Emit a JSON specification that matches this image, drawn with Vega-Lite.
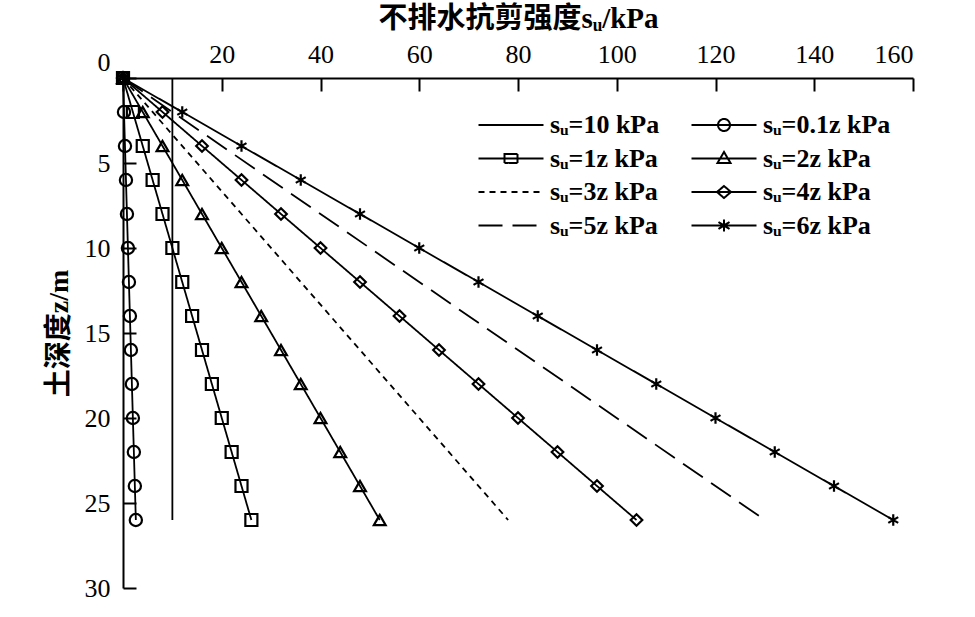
{
  "$schema": "https://vega.github.io/schema/vega-lite/v6.json",
  "autosize": {"type": "none"},
  "padding": {"left": 123, "top": 78, "right": 62, "bottom": 29},
  "width": 790,
  "height": 510,
  "background": "white",
  "config": {
    "view": {"stroke": null},
    "font": "Liberation Serif",
    "axis": {"grid": false, "domain": true, "ticks": true, "zindex": 1, "domainColor": "black", "domainOpacity": 1, "domainWidth": 2, "tickColor": "black", "tickOpacity": 1, "tickWidth": 2, "labelColor": "black", "titleColor": "black", "labelFont": "Liberation Serif", "titleFont": "Liberation Serif, Noto Sans CJK SC", "labelFontSize": 26, "titleFontSize": 28, "titleFontWeight": "bold", "labelFontWeight": "normal"}
  },
  "data": {
    "values": [
      {"series": "sᵤ=10 kPa", "z": 0, "su": 10},
      {"series": "sᵤ=10 kPa", "z": 26, "su": 10},
      {"series": "sᵤ=3z kPa", "z": 0, "su": 0},
      {"series": "sᵤ=3z kPa", "z": 26, "su": 78},
      {"series": "sᵤ=5z kPa", "z": 0, "su": 0},
      {"series": "sᵤ=5z kPa", "z": 26, "su": 130},
      {"series": "sᵤ=0.1z kPa", "z": 0, "su": 0},
      {"series": "sᵤ=0.1z kPa", "z": 2, "su": 0.2},
      {"series": "sᵤ=0.1z kPa", "z": 4, "su": 0.4},
      {"series": "sᵤ=0.1z kPa", "z": 6, "su": 0.6},
      {"series": "sᵤ=0.1z kPa", "z": 8, "su": 0.8},
      {"series": "sᵤ=0.1z kPa", "z": 10, "su": 1.0},
      {"series": "sᵤ=0.1z kPa", "z": 12, "su": 1.2},
      {"series": "sᵤ=0.1z kPa", "z": 14, "su": 1.4},
      {"series": "sᵤ=0.1z kPa", "z": 16, "su": 1.6},
      {"series": "sᵤ=0.1z kPa", "z": 18, "su": 1.8},
      {"series": "sᵤ=0.1z kPa", "z": 20, "su": 2.0},
      {"series": "sᵤ=0.1z kPa", "z": 22, "su": 2.2},
      {"series": "sᵤ=0.1z kPa", "z": 24, "su": 2.4},
      {"series": "sᵤ=0.1z kPa", "z": 26, "su": 2.6},
      {"series": "sᵤ=1z kPa", "z": 0, "su": 0},
      {"series": "sᵤ=1z kPa", "z": 2, "su": 2},
      {"series": "sᵤ=1z kPa", "z": 4, "su": 4},
      {"series": "sᵤ=1z kPa", "z": 6, "su": 6},
      {"series": "sᵤ=1z kPa", "z": 8, "su": 8},
      {"series": "sᵤ=1z kPa", "z": 10, "su": 10},
      {"series": "sᵤ=1z kPa", "z": 12, "su": 12},
      {"series": "sᵤ=1z kPa", "z": 14, "su": 14},
      {"series": "sᵤ=1z kPa", "z": 16, "su": 16},
      {"series": "sᵤ=1z kPa", "z": 18, "su": 18},
      {"series": "sᵤ=1z kPa", "z": 20, "su": 20},
      {"series": "sᵤ=1z kPa", "z": 22, "su": 22},
      {"series": "sᵤ=1z kPa", "z": 24, "su": 24},
      {"series": "sᵤ=1z kPa", "z": 26, "su": 26},
      {"series": "sᵤ=2z kPa", "z": 0, "su": 0},
      {"series": "sᵤ=2z kPa", "z": 2, "su": 4},
      {"series": "sᵤ=2z kPa", "z": 4, "su": 8},
      {"series": "sᵤ=2z kPa", "z": 6, "su": 12},
      {"series": "sᵤ=2z kPa", "z": 8, "su": 16},
      {"series": "sᵤ=2z kPa", "z": 10, "su": 20},
      {"series": "sᵤ=2z kPa", "z": 12, "su": 24},
      {"series": "sᵤ=2z kPa", "z": 14, "su": 28},
      {"series": "sᵤ=2z kPa", "z": 16, "su": 32},
      {"series": "sᵤ=2z kPa", "z": 18, "su": 36},
      {"series": "sᵤ=2z kPa", "z": 20, "su": 40},
      {"series": "sᵤ=2z kPa", "z": 22, "su": 44},
      {"series": "sᵤ=2z kPa", "z": 24, "su": 48},
      {"series": "sᵤ=2z kPa", "z": 26, "su": 52},
      {"series": "sᵤ=4z kPa", "z": 0, "su": 0},
      {"series": "sᵤ=4z kPa", "z": 2, "su": 8},
      {"series": "sᵤ=4z kPa", "z": 4, "su": 16},
      {"series": "sᵤ=4z kPa", "z": 6, "su": 24},
      {"series": "sᵤ=4z kPa", "z": 8, "su": 32},
      {"series": "sᵤ=4z kPa", "z": 10, "su": 40},
      {"series": "sᵤ=4z kPa", "z": 12, "su": 48},
      {"series": "sᵤ=4z kPa", "z": 14, "su": 56},
      {"series": "sᵤ=4z kPa", "z": 16, "su": 64},
      {"series": "sᵤ=4z kPa", "z": 18, "su": 72},
      {"series": "sᵤ=4z kPa", "z": 20, "su": 80},
      {"series": "sᵤ=4z kPa", "z": 22, "su": 88},
      {"series": "sᵤ=4z kPa", "z": 24, "su": 96},
      {"series": "sᵤ=4z kPa", "z": 26, "su": 104},
      {"series": "sᵤ=6z kPa", "z": 0, "su": 0},
      {"series": "sᵤ=6z kPa", "z": 2, "su": 12},
      {"series": "sᵤ=6z kPa", "z": 4, "su": 24},
      {"series": "sᵤ=6z kPa", "z": 6, "su": 36},
      {"series": "sᵤ=6z kPa", "z": 8, "su": 48},
      {"series": "sᵤ=6z kPa", "z": 10, "su": 60},
      {"series": "sᵤ=6z kPa", "z": 12, "su": 72},
      {"series": "sᵤ=6z kPa", "z": 14, "su": 84},
      {"series": "sᵤ=6z kPa", "z": 16, "su": 96},
      {"series": "sᵤ=6z kPa", "z": 18, "su": 108},
      {"series": "sᵤ=6z kPa", "z": 20, "su": 120},
      {"series": "sᵤ=6z kPa", "z": 22, "su": 132},
      {"series": "sᵤ=6z kPa", "z": 24, "su": 144},
      {"series": "sᵤ=6z kPa", "z": 26, "su": 156}
    ]
  },
  "encoding": {
    "x": {
      "field": "su", "type": "quantitative",
      "scale": {"domain": [0, 160], "nice": false},
      "axis": {
        "orient": "top",
        "values": [0, 20, 40, 60, 80, 100, 120, 140, 160],
        "title": "不排水抗剪强度sᵤ/kPa",
        "titleFontSize": 29,
        "titlePadding": 8,
        "tickSize": -13,
        "labelPadding": 24,
        "labelExpr": "datum.value == 0 ? '' : datum.label"
      }
    },
    "y": {
      "field": "z", "type": "quantitative",
      "scale": {"domain": [0, 30], "reverse": true, "nice": false},
      "axis": {
        "values": [0, 5, 10, 15, 20, 25, 30],
        "title": "土深度z/m",
        "titlePadding": 11,
        "tickSize": -13,
        "labelPadding": 26,
        "labelOffset": {"condition": {"test": "datum.value == 0", "value": -16}, "value": 0}
      }
    }
  },
  "layer": [
    {
      "mark": {"type": "line", "color": "black", "strokeWidth": 1.8},
      "encoding": {
        "detail": {"field": "series"},
        "order": {"field": "z", "type": "quantitative"},
        "strokeDash": {
          "field": "series", "type": "nominal",
          "scale": {
            "domain": ["sᵤ=10 kPa", "sᵤ=0.1z kPa", "sᵤ=1z kPa", "sᵤ=2z kPa", "sᵤ=3z kPa", "sᵤ=4z kPa", "sᵤ=5z kPa", "sᵤ=6z kPa"],
            "range": [[1, 0], [1, 0], [1, 0], [1, 0], [6, 5], [1, 0], [24, 10], [1, 0]]
          },
          "legend": {
            "title": null,
            "orient": "none",
            "direction": "horizontal",
            "legendX": 354,
            "legendY": 34,
            "padding": 0,
            "columns": 2,
            "columnPadding": 27,
            "rowPadding": 7.5,
            "symbolSize": 400,
            "symbolOffset": 21,
            "labelOffset": 26,
            "symbolStrokeWidth": 2,
            "symbolStrokeColor": "black",
            "symbolFillColor": "transparent",
            "symbolType": {"expr": "datum.value === 'sᵤ=0.1z kPa' ? 'M-3.25,0L3.25,0M0.6,0A0.6,0.6 0 1 1 -0.6,0A0.6,0.6 0 1 1 0.6,0' : datum.value === 'sᵤ=1z kPa' ? 'M-3.25,0L3.25,0M-0.65,-0.45L0.65,-0.45L0.65,0.45L-0.65,0.45Z' : datum.value === 'sᵤ=2z kPa' ? 'M-3.25,0L3.25,0M0,-0.65L0.65,0.45L-0.65,0.45Z' : datum.value === 'sᵤ=4z kPa' ? 'M-3.25,0L3.25,0M0,-0.6L0.7,0L0,0.6L-0.7,0Z' : datum.value === 'sᵤ=6z kPa' ? 'M-3.25,0L3.25,0M0,-0.6L0,0.6M-0.55,-0.35L0.55,0.35M-0.55,0.35L0.55,-0.35' : 'M-3.25,0L3.25,0'"},
            "labelFont": "Liberation Serif",
            "labelFontSize": 26,
            "labelFontWeight": "bold",
            "labelColor": "black",
            "labelLimit": 300
          }
        }
      }
    },
    {
      "transform": [{"filter": "indexof(['sᵤ=10 kPa','sᵤ=3z kPa','sᵤ=5z kPa'], datum.series) < 0"}],
      "mark": {"type": "point", "filled": false, "color": "black", "strokeWidth": 2.2, "opacity": 1},
      "encoding": {
        "shape": {
          "field": "series", "type": "nominal",
          "scale": {
            "domain": ["sᵤ=0.1z kPa", "sᵤ=1z kPa", "sᵤ=2z kPa", "sᵤ=4z kPa", "sᵤ=6z kPa"],
            "range": ["circle", "square", "triangle-up", "diamond", "M0,-1L0,1M-0.87,-0.5L0.87,0.5M-0.87,0.5L0.87,-0.5"]
          },
          "legend": null
        },
        "size": {
          "field": "series", "type": "nominal",
          "scale": {
            "domain": ["sᵤ=0.1z kPa", "sᵤ=1z kPa", "sᵤ=2z kPa", "sᵤ=4z kPa", "sᵤ=6z kPa"],
            "range": [150, 130, 170, 160, 200]
          },
          "legend": null
        }
      }
    }
  ]
}
